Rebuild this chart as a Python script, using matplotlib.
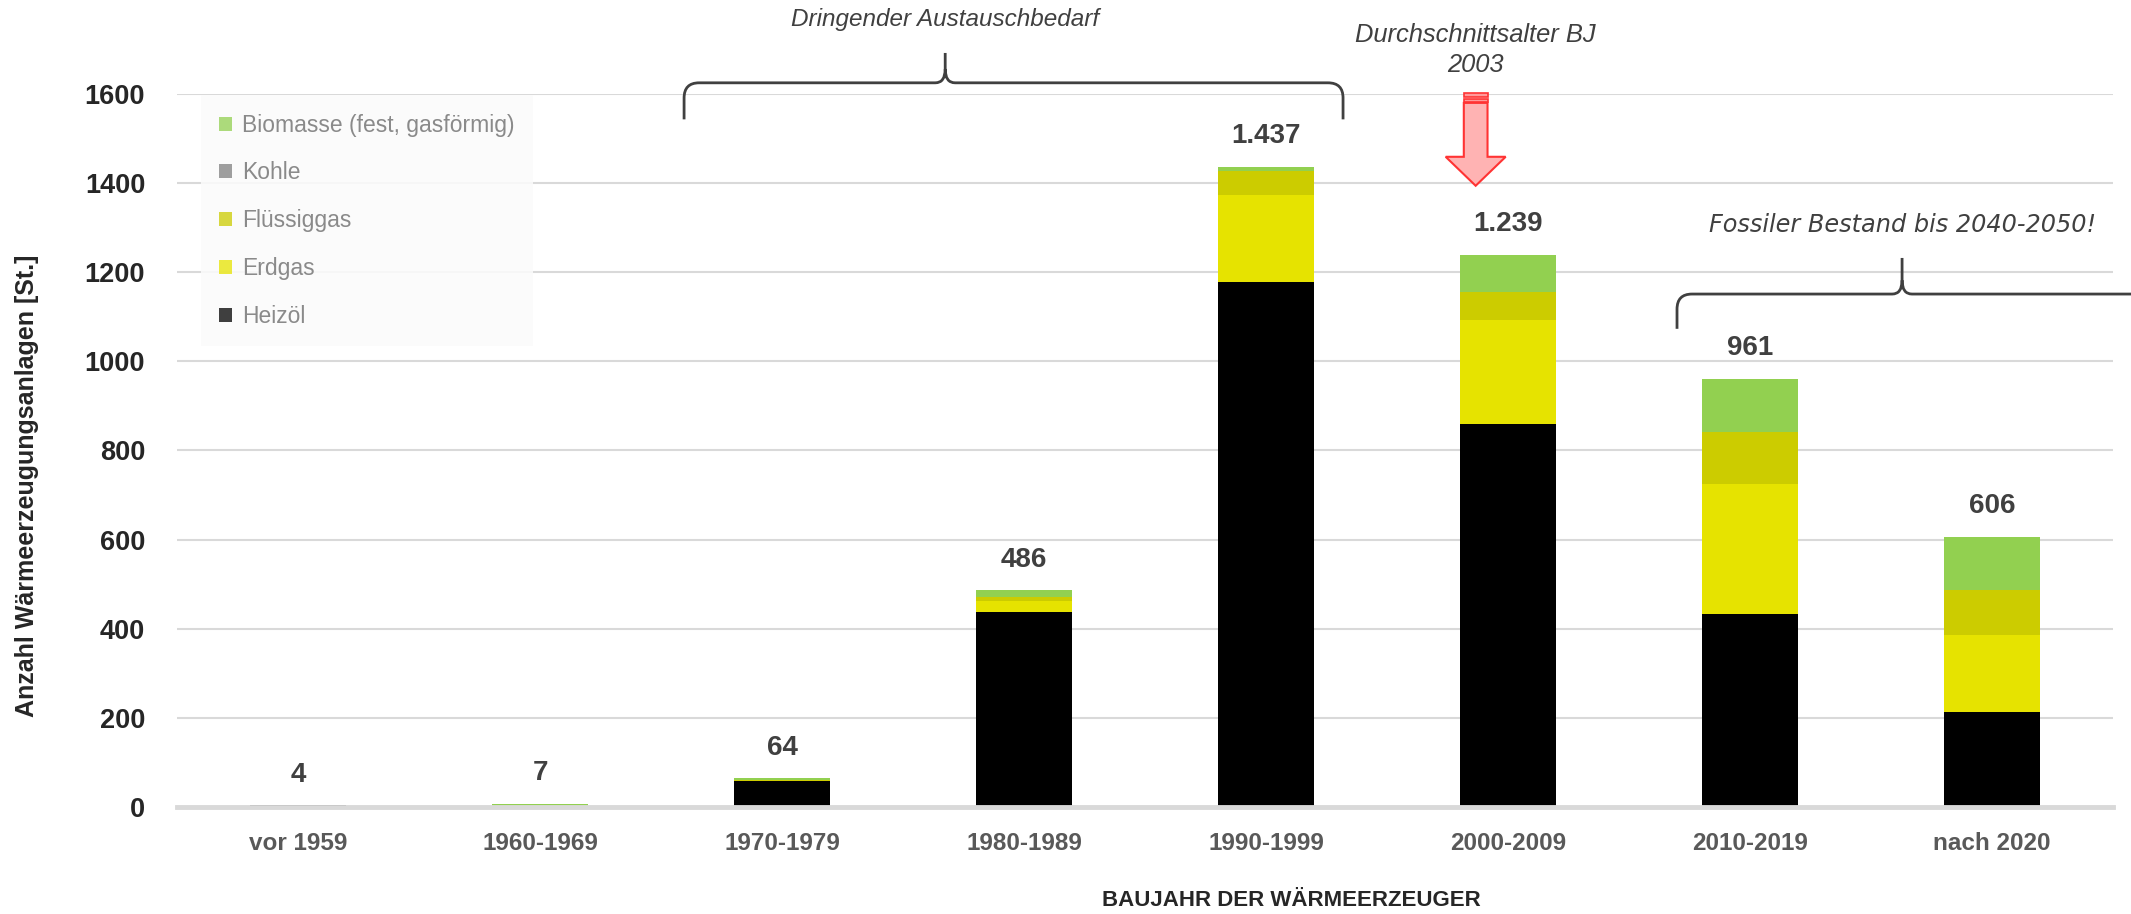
import matplotlib
matplotlib.use("Agg")
import matplotlib.pyplot as plt
import numpy as np
from matplotlib.path import Path
from matplotlib.patches import PathPatch, Polygon, Rectangle, Patch

plt.rcParams['font.family'] = ['Liberation Sans', 'DejaVu Sans']

# Heat generators by construction period and energy carrier
categories = ['vor 1959', '1960-1969', '1970-1979', '1980-1989',
              '1990-1999', '2000-2009', '2010-2019', 'nach 2020']
heizoel = [4, 0, 59, 438, 1178, 859, 434, 213]
erdgas = [0, 0, 0, 25, 195, 234, 291, 174]
fluessiggas = [0, 0, 1, 9, 55, 62, 117, 100]
kohle = [0, 0, 0, 0, 0, 0, 0, 0]
biomasse = [0, 7, 4, 14, 9, 84, 119, 119]
y_ticks = [0, 200, 400, 600, 800, 1000, 1200, 1400, 1600]

series = [
    ('Heizöl', heizoel, '#000000'),
    ('Erdgas', erdgas, '#e6e300'),
    ('Flüssiggas', fluessiggas, '#cccc00'),
    ('Kohle', kohle, '#7f7f7f'),
    ('Biomasse (fest, gasförmig)', biomasse, '#92d050'),
]

fig = plt.figure(figsize=(21.31, 9.14), dpi=100)
ax = fig.add_axes([0.0831, 0.1171, 0.9085, 0.7801])

x = np.arange(len(categories))
bottom = np.zeros(len(categories))
for name, vals, color in series:
    vals = np.array(vals, dtype=float)
    ax.bar(x, vals, 0.4, bottom=bottom, color=color, linewidth=0, zorder=2)
    bottom += vals
totals = bottom

# total labels above each column
for xi, t in zip(x, totals):
    label = f"{int(t):,}".replace(',', '.')
    ax.annotate(label, (xi, t), xytext=(0, 17), textcoords='offset points',
                ha='center', va='baseline', fontsize=20, fontweight='bold',
                color='#404040', zorder=5)

ax.set_xlim(-0.5, len(categories) - 0.5)
ax.set_ylim(0, 1600)
ax.set_yticks(y_ticks)
ax.set_yticklabels([str(v) for v in y_ticks], fontsize=19.5, fontweight='bold',
                   color='#262626')
ax.set_xticks(x)
ax.set_xticklabels(categories, fontsize=17.5, fontweight='bold', color='#595959')
ax.tick_params(axis='y', length=0, pad=23)
ax.tick_params(axis='x', length=0, pad=18)
for s in ax.spines.values():
    s.set_visible(False)
ax.yaxis.grid(True, color='#d9d9d9', linewidth=1.5, zorder=0)
ax.set_axisbelow(True)
ax.axhline(0, color='#d9d9d9', linewidth=3.5, zorder=3, clip_on=False)

fig.text(27 / 2131, 1 - 486 / 914, 'Anzahl Wärmeerzeugungsanlagen [St.]',
         rotation=90, ha='center', va='center', fontsize=18, fontweight='bold',
         color='#262626')
fig.text(1291 / 2131, 1 - 900 / 914, 'BAUJAHR DER WÄRMEERZEUGER',
         ha='center', va='center', fontsize=16, fontweight='bold', color='#262626')

# legend (top series first)
handles = [Patch(facecolor=c, alpha=0.75, linewidth=0) for _, _, c in series][::-1]
labels = [n for n, _, _ in series][::-1]
leg = ax.legend(handles, labels, loc='upper left', bbox_to_anchor=(0.0124, 0.998),
                fontsize=16.5, frameon=True, facecolor='#fbfbfb', edgecolor='none',
                framealpha=0.88, handlelength=0.55, handleheight=0.55,
                handletextpad=0.45, labelspacing=1.08, borderpad=0.8,
                borderaxespad=0, fancybox=False)
for t in leg.get_texts():
    t.set_color('#8a8a8a')
leg.set_zorder(4)


def curly_brace(xl, xr, xm, y_line, y_end, y_tip, rx=0.062, ry=34, cx=0.041, cy=31):
    verts = [(xl, y_end), (xl, y_line - ry), (xl, y_line), (xl + rx, y_line),
             (xm - cx, y_line), (xm, y_line), (xm, y_line + cy), (xm, y_tip),
             (xm, y_line + cy), (xm, y_line), (xm + cx, y_line),
             (xr - rx, y_line), (xr, y_line), (xr, y_line - ry), (xr, y_end)]
    codes = [Path.MOVETO, Path.LINETO, Path.CURVE3, Path.CURVE3,
             Path.LINETO, Path.CURVE3, Path.CURVE3, Path.LINETO,
             Path.MOVETO, Path.CURVE3, Path.CURVE3,
             Path.LINETO, Path.CURVE3, Path.CURVE3, Path.LINETO]
    ax.add_patch(PathPatch(Path(verts, codes), facecolor='none', edgecolor='#404040',
                           linewidth=2, clip_on=False, zorder=6))


curly_brace(1.595, 4.318, 2.674, 1625, 1543, 1692)
curly_brace(5.698, 7.70, 6.628, 1151, 1073, 1232)

ax.text(2.674, 1766, 'Dringender Austauschbedarf', ha='center', va='center',
        fontsize=17.5, style='italic', color='#404040', clip_on=False)
ax.text(6.628, 1305, 'Fossiler Bestand bis 2040-2050!', ha='center', va='center',
        fontsize=17.3, style='italic', color='#404040', family='DejaVu Sans',
        clip_on=False)
ax.text(4.866, 1699, 'Durchschnittsalter BJ\n2003', ha='center', va='center',
        fontsize=18.4, style='italic', color='#404040', linespacing=1.35,
        multialignment='center', clip_on=False)

# block arrow pointing at the average construction year
ax_c, sw, hw = 4.866, 0.049, 0.124
arrow = Polygon([(ax_c - sw, 1580), (ax_c + sw, 1580), (ax_c + sw, 1459),
                 (ax_c + hw, 1459), (ax_c, 1394), (ax_c - hw, 1459),
                 (ax_c - sw, 1459)], closed=True, facecolor='#ffb3b3',
                edgecolor='#ff3333', linewidth=1.5, clip_on=False, zorder=6)
ax.add_patch(arrow)
for y0, y1 in [(1583, 1589), (1593, 1602)]:
    ax.add_patch(Rectangle((ax_c - sw, y0), 2 * sw, y1 - y0, facecolor='#ff9a9a',
                           edgecolor='#ff3333', linewidth=1.2, clip_on=False, zorder=6))

fig.savefig('out.png', dpi=100)
